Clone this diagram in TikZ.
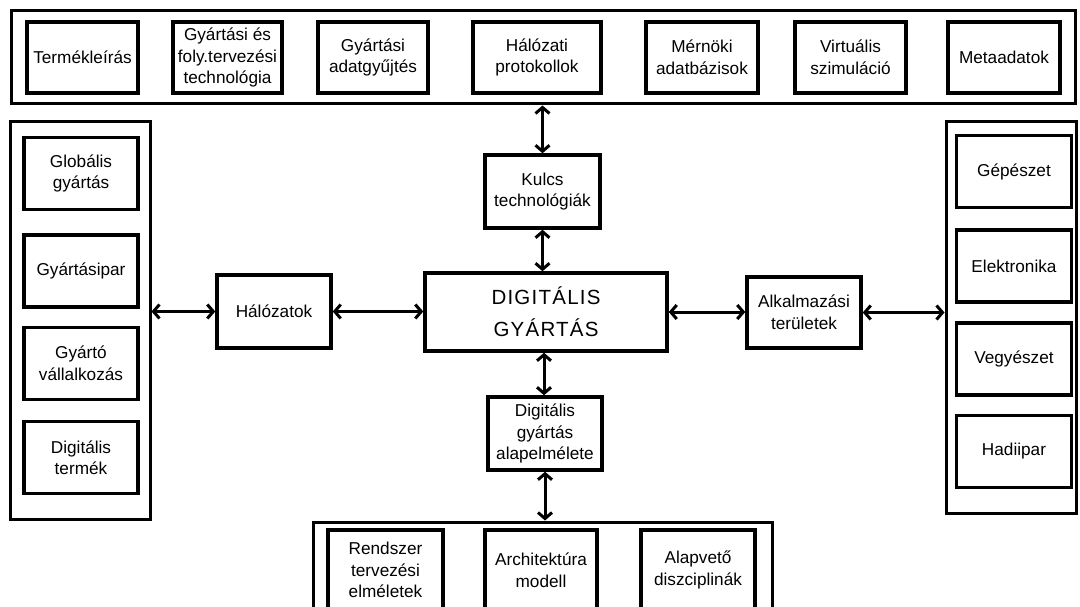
\documentclass[tikz,border=0pt]{standalone}
\usepackage{fontspec}
\setmainfont{Liberation Sans}
\newfontfamily\titlefont[LetterSpace=6]{Liberation Sans}
\usetikzlibrary{arrows.meta}
\begin{document}
\begin{tikzpicture}[x=1pt,y=-1pt,
  outerbox/.style={draw, line width=3pt, inner sep=0pt},
  itembox/.style={draw, line width=3.5pt, align=center, inner sep=0pt,
    font=\fontsize{17.2}{21.5}\selectfont},
  link/.style={line width=3pt, {Straight Barb[length=6pt,width=14pt]}-{Straight Barb[length=6pt,width=14pt]}}
]
\useasboundingbox (0,0) rectangle (1080,607);
\begin{scope}
\clip (0,0) rectangle (1080,607);

% frame of the upper row
\node[outerbox, minimum width=1064pt, minimum height=93pt] (top) at (543,57.5) {};
\node[itembox, minimum width=111pt, minimum height=71pt] (t1) at (82.5,57.5) {Termékleírás};
\node[itembox, minimum width=109pt, minimum height=71pt] (t2) at (227.5,57.5) {Gyártási és\\foly.tervezési\\technológia};
\node[itembox, minimum width=110pt, minimum height=71pt] (t3) at (373,57.5) {Gyártási\\adatgyűjtés};
\node[itembox, minimum width=128pt, minimum height=71pt] (t4) at (537,57.5) {Hálózati\\protokollok};
\node[itembox, minimum width=112pt, minimum height=71pt] (t5) at (702,57.5) {Mérnöki\\adatbázisok};
\node[itembox, minimum width=111pt, minimum height=71pt] (t6) at (850.5,57.5) {Virtuális\\szimuláció};
\node[itembox, minimum width=112pt, minimum height=71pt] (t7) at (1004,57.5) {Metaadatok};

% left column
\node[outerbox, minimum width=140pt, minimum height=397pt] (left) at (80,320.5) {};
\node[itembox, minimum width=114pt, minimum height=72pt] (l1) at (81,173.5) {Globális\\gyártás};
\node[itembox, minimum width=114pt, minimum height=72pt] (l2) at (81,271) {Gyártásipar};
\node[itembox, minimum width=114pt, minimum height=72pt] (l3) at (81,363.5) {Gyártó\\vállalkozás};
\node[itembox, minimum width=114pt, minimum height=72pt] (l4) at (81,457.5) {Digitális\\termék};

% right column
\node[outerbox, minimum width=130pt, minimum height=391pt] (right) at (1011,317.5) {};
\node[itembox, minimum width=115pt, minimum height=72pt] (r1) at (1014,171.5) {Gépészet};
\node[itembox, minimum width=115pt, minimum height=72pt] (r2) at (1014,266) {Elektronika};
\node[itembox, minimum width=115pt, minimum height=72pt] (r3) at (1014,359) {Vegyészet};
\node[itembox, minimum width=115pt, minimum height=72pt] (r4) at (1014,451.5) {Hadiipar};

% bottom row
\node[outerbox, minimum width=459pt, minimum height=98pt] (bottom) at (542.5,571) {};
\node[itembox, minimum width=115pt, minimum height=80pt] (b1) at (385.5,570) {Rendszer\\tervezési\\elméletek};
\node[itembox, minimum width=112pt, minimum height=80pt] (b2) at (541,570) {Architektúra\\modell};
\node[itembox, minimum width=114pt, minimum height=80pt] (b3) at (698,570) {Alapvető\\diszciplinák};

% central part
\node[itembox, minimum width=242pt, minimum height=78pt, font=\titlefont\fontsize{20.5}{32}\selectfont] (dig) at (546,312) {DIGITÁLIS\\GYÁRTÁS};
\node[itembox, minimum width=115pt, minimum height=73pt] (kulcs) at (542.5,191.5) {Kulcs\\technológiák};
\node[itembox, minimum width=114pt, minimum height=73pt] (alap) at (545,433.5) {Digitális\\gyártás\\alapelmélete};
\node[itembox, minimum width=114pt, minimum height=73pt] (hal) at (274,311.5) {Hálózatok};
\node[itembox, minimum width=114pt, minimum height=71pt] (alk) at (804,312.5) {Alkalmazási\\területek};

% connectors
\draw[link] (kulcs.north) -- (kulcs.north |- top.south);
\draw[link] (kulcs.south) -- (kulcs.south |- dig.north);
\draw[link] ([xshift=-2pt]dig.south) -- ([xshift=-2pt]dig.south |- alap.north);
\draw[link] (alap.south) -- (alap.south |- bottom.north);
\draw[link] (left.east |- hal.west) -- (hal.west);
\draw[link] (hal.east) -- (hal.east -| dig.west);
\draw[link] (dig.east) -- (dig.east -| alk.west);
\draw[link] (alk.east) -- (alk.east -| right.west);
\end{scope}
\end{tikzpicture}
\end{document}
